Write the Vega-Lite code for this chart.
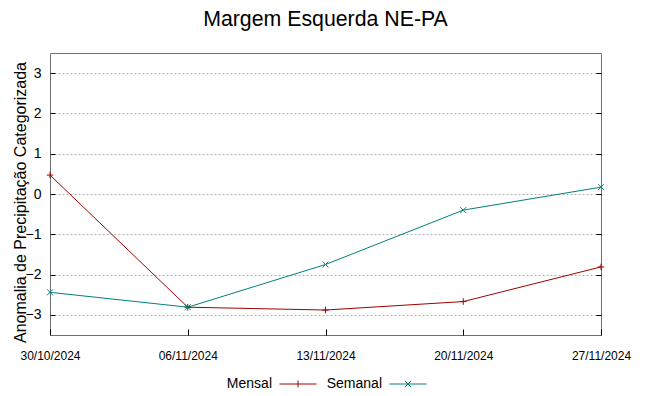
{
  "$schema": "https://vega.github.io/schema/vega-lite/v6.json",
  "width": 551,
  "height": 282,
  "autosize": {"type": "none"},
  "padding": {"left": 50, "top": 53, "right": 48, "bottom": 61},
  "background": "white",
  "title": {"text": "Margem Esquerda NE-PA", "fontSize": 21.3, "font": "Liberation Sans", "fontWeight": "normal", "color": "#000000", "offset": 23, "anchor": "middle"},
  "config": {
    "view": {"stroke": "#707070", "strokeWidth": 1},
    "axis": {"domain": false, "labelColor": "#000000", "tickColor": "#000000", "titleColor": "#000000"}
  },
  "data": {"values": [
    {"data": "30/10/2024", "serie": "Mensal", "valor": 0.47},
    {"data": "06/11/2024", "serie": "Mensal", "valor": -2.81},
    {"data": "13/11/2024", "serie": "Mensal", "valor": -2.88},
    {"data": "20/11/2024", "serie": "Mensal", "valor": -2.67},
    {"data": "27/11/2024", "serie": "Mensal", "valor": -1.81},
    {"data": "30/10/2024", "serie": "Semanal", "valor": -2.44},
    {"data": "06/11/2024", "serie": "Semanal", "valor": -2.81},
    {"data": "13/11/2024", "serie": "Semanal", "valor": -1.75},
    {"data": "20/11/2024", "serie": "Semanal", "valor": -0.40},
    {"data": "27/11/2024", "serie": "Semanal", "valor": 0.17}
  ]},
  "layer": [
    {
      "mark": {"type": "line", "strokeWidth": 1},
      "encoding": {
        "x": {"field": "data", "type": "ordinal", "sort": ["30/10/2024", "06/11/2024", "13/11/2024", "20/11/2024", "27/11/2024"],
              "scale": {"type": "point", "padding": 0},
              "axis": {"title": null, "labelAngle": 0, "labelFont": "Liberation Sans", "labelFontSize": 12, "tickSize": -6, "labelPadding": 21, "grid": false}},
        "y": {"field": "valor", "type": "quantitative", "scale": {"domain": [-3.5, 3.5], "nice": false, "zero": false},
              "axis": {"values": [-3, -2, -1, 0, 1, 2, 3], "grid": true, "gridDash": [2, 2], "gridColor": "#b0b0b0", "gridWidth": 1,
                       "tickSize": -5, "labelPadding": 14, "labelFont": "Liberation Sans", "labelFontSize": 14,
                       "title": "Anomalia de Precipitação Categorizada", "titleFont": "Liberation Sans", "titleFontSize": 16, "titleFontWeight": "normal", "titlePadding": -3, "titleY": 149}},
        "color": {"field": "serie", "type": "nominal",
                  "scale": {"domain": ["Mensal", "Semanal"], "range": ["#a00000", "#008080"]},
                  "legend": {"title": null, "orient": "none", "direction": "horizontal", "legendX": 229, "legendY": 312,
                             "symbolSize": 1369, "symbolStrokeWidth": 1, "labelFont": "Liberation Sans", "labelFontSize": 14, "labelColor": "#000000",
                             "labelAlign": "right", "labelOffset": -45, "columnPadding": 7,
                             "encode": {"symbols": {"update": {"shape": {"signal": "datum.value === 'Mensal' ? 'M-1,0L1,0M0,-0.19L0,0.19' : 'M-1,0L1,0M-0.17,-0.17L0.17,0.17M-0.17,0.17L0.17,-0.17'"}, "fill": {"value": "transparent"}}}}}}
      }
    },
    {
      "transform": [{"filter": "datum.serie === 'Mensal'"}],
      "mark": {"type": "point", "filled": false, "strokeWidth": 1, "opacity": 1, "shape": "M-1,0L1,0M0,-1L0,1", "color": "#a00000", "size": 42},
      "encoding": {
        "x": {"field": "data", "type": "ordinal", "sort": ["30/10/2024", "06/11/2024", "13/11/2024", "20/11/2024", "27/11/2024"], "scale": {"type": "point", "padding": 0}},
        "y": {"field": "valor", "type": "quantitative", "scale": {"domain": [-3.5, 3.5], "nice": false, "zero": false},
              "axis": {"orient": "right", "values": [-3, -2, -1, 0, 1, 2, 3], "labels": false, "title": null, "grid": false, "tickSize": -5}}
      }
    },
    {
      "transform": [{"filter": "datum.serie === 'Semanal'"}],
      "mark": {"type": "point", "filled": false, "strokeWidth": 1, "opacity": 1, "shape": "M-1,-1L1,1M-1,1L1,-1", "color": "#008080", "size": 36},
      "encoding": {
        "x": {"field": "data", "type": "ordinal", "sort": ["30/10/2024", "06/11/2024", "13/11/2024", "20/11/2024", "27/11/2024"], "scale": {"type": "point", "padding": 0}},
        "y": {"field": "valor", "type": "quantitative", "scale": {"domain": [-3.5, 3.5], "nice": false, "zero": false},
              "axis": null}
      }
    }
  ],
  "resolve": {"axis": {"y": "independent"}}
}
